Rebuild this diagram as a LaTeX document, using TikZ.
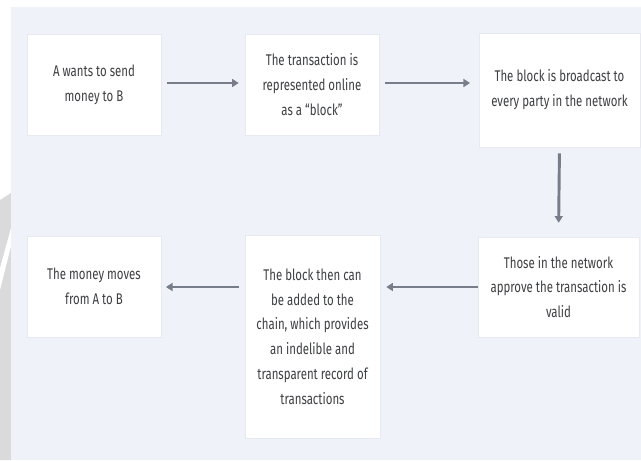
\documentclass[tikz,border=0pt]{standalone}
\usepackage{fontspec}
\setmainfont{Fira Sans}[FakeStretch=0.74]
\usetikzlibrary{arrows.meta}
\definecolor{bgc}{HTML}{EFF3F9}
\definecolor{txt}{HTML}{3E3F42}
\definecolor{arrc}{HTML}{777E8A}
\definecolor{wm}{HTML}{DADADA}
\definecolor{edge}{HTML}{E6E9EF}
\tikzset{
  stepbox/.style={fill=white, draw=edge, line width=0.4pt, inner sep=0pt,
    align=center, text=txt, font=\fontsize{11.6pt}{18.6pt}\selectfont},
  arr/.style={draw=arrc, line width=2.2pt,
    -{Triangle[length=5pt,width=6pt]}, shorten >=4.5pt, shorten <=4.5pt}
}
\begin{document}
\begin{tikzpicture}[x=0.75pt,y=-0.75pt]
\useasboundingbox (0,0) rectangle (641,460);
\fill[white] (0,0) rectangle (641,460);
% faint watermark at left edge
\fill[wm] (0,200) -- (11,193) -- (11,460) -- (0,460) -- cycle;
\fill[white] (0,268) -- (11,228) -- (11,246) -- (0,290) -- cycle;
% background panel
\fill[bgc] (11,7) rectangle (641,460);
% boxes
\node[stepbox, minimum width=100.5pt, minimum height=75.75pt] (b1) at (94,84.5)
  {A wants to send\\money to B};
\node[stepbox, minimum width=100.5pt, minimum height=75.75pt] (b2) at (312,84.5)
  {The transaction is\\represented online\\as a “block”};
\node[stepbox, minimum width=120.75pt, minimum height=85.5pt] (b3) at (559.5,90)
  {The block is broadcast to\\every party in the network};
\node[stepbox, minimum width=120.75pt, minimum height=75pt] (b4) at (558.5,287)
  {Those in the network\\approve the transaction is\\valid};
\node[stepbox, minimum width=101.25pt, minimum height=152.25pt] (b5) at (312.5,336.5)
  {The block then can\\be added to the\\chain, which provides\\an indelible and\\transparent record of\\transactions};
\node[stepbox, minimum width=100.5pt, minimum height=75.75pt] (b6) at (94,286.5)
  {The money moves\\from A to B};
% connectors
\draw[arr] (b1.east |- 0,83) -- (b2.west |- 0,83);
\draw[arr, shorten >=6.5pt] (b2.east |- 0,83) -- (b3.west |- 0,83);
\draw[arr, shorten >=10.5pt] (b3.south) -- (b4.north);
\draw[arr, shorten <=0pt] (b4.west |- 0,287) -- (b5.east |- 0,287);
\draw[arr, shorten >=3.5pt] (b5.west |- 0,287) -- (b6.east |- 0,287);
\end{tikzpicture}
\end{document}
